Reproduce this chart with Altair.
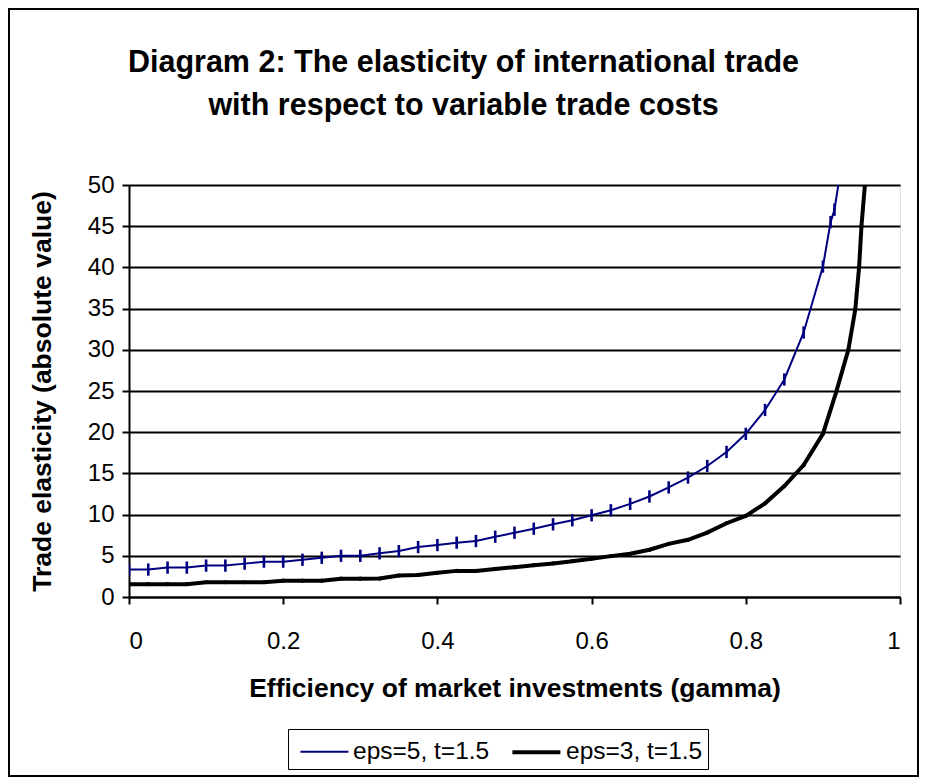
import altair as alt
import pandas as pd

BLUE_NAME = "eps=5, t=1.5"
BLACK_NAME = "eps=3, t=1.5"

gamma_blue = [0.0, 0.025, 0.05, 0.075, 0.1, 0.125, 0.15, 0.175, 0.2, 0.225,
              0.25, 0.275, 0.3, 0.325, 0.35, 0.375, 0.4, 0.425, 0.45, 0.475,
              0.5, 0.525, 0.55, 0.575, 0.6, 0.625, 0.65, 0.675, 0.7, 0.725,
              0.75, 0.775, 0.8, 0.825, 0.85, 0.875, 0.9, 0.91, 0.915, 0.925]
value_blue = [3.33, 3.33, 3.57, 3.57, 3.81, 3.81, 4.05, 4.29, 4.29, 4.52,
              4.76, 5.0, 5.0, 5.3, 5.57, 6.06, 6.3, 6.59, 6.79, 7.32,
              7.8, 8.29, 8.82, 9.31, 9.92, 10.53, 11.3, 12.2, 13.3, 14.5,
              15.9, 17.6, 19.8, 22.7, 26.4, 32.1, 40.1, 45.5, 47.0, 53.0]

gamma_black = [0.0, 0.025, 0.05, 0.075, 0.1, 0.125, 0.15, 0.175, 0.2, 0.225,
               0.25, 0.275, 0.3, 0.325, 0.35, 0.375, 0.4, 0.425, 0.45, 0.475,
               0.5, 0.525, 0.55, 0.575, 0.6, 0.625, 0.65, 0.675, 0.7, 0.725,
               0.75, 0.775, 0.8, 0.825, 0.85, 0.875, 0.9, 0.917, 0.933, 0.942,
               0.947, 0.95, 0.955]
value_black = [1.55, 1.55, 1.55, 1.55, 1.79, 1.79, 1.79, 1.79, 1.98, 1.98,
               1.98, 2.22, 2.22, 2.24, 2.6, 2.68, 2.93, 3.17, 3.17, 3.41,
               3.62, 3.86, 4.07, 4.35, 4.63, 4.96, 5.24, 5.73, 6.45, 6.94,
               7.82, 8.95, 9.84, 11.37, 13.47, 16.0, 19.8, 24.8, 30.0, 34.9,
               40.1, 45.0, 50.6]

x_ticks = [0, 0.2, 0.4, 0.6, 0.8, 1]
y_ticks = [0, 5, 10, 15, 20, 25, 30, 35, 40, 45, 50]

title_lines = ["Diagram 2: The elasticity of international trade",
               "with respect to variable trade costs"]
x_title = "Efficiency of market investments (gamma)"
y_title = "Trade elasticity (absolute value)"

FONT = "Liberation Sans"
NAVY = "#000080"
W, H = 771, 412

df_blue = pd.DataFrame({"gamma": gamma_blue, "value": value_blue, "series": BLUE_NAME})
df_black = pd.DataFrame({"gamma": gamma_black, "value": value_black, "series": BLACK_NAME})
df = pd.concat([df_blue, df_black], ignore_index=True)

x_enc = alt.X(
    "gamma:Q",
    scale=alt.Scale(domain=[0, 1], nice=False),
    axis=alt.Axis(
        values=x_ticks, format="~g", title=x_title, grid=False,
        labelFont=FONT, labelFontSize=24, labelColor="black", labelPadding=25,
        tickColor="black", tickSize=7, tickWidth=2,
        domainColor="black", domainWidth=2,
        titleFont=FONT, titleFontSize=26.5, titleFontWeight="bold", titleColor="black",
        titleX=W / 2, titleY=91, titleBaseline="middle",
    ),
)
y_enc = alt.Y(
    "value:Q",
    scale=alt.Scale(domain=[0, 50], nice=False),
    axis=alt.Axis(
        values=y_ticks, title=y_title, grid=True, gridColor="black", gridWidth=2,
        gridOpacity=1,
        labelFont=FONT, labelFontSize=24, labelColor="black", labelPadding=8,
        tickColor="black", tickSize=7, tickWidth=2,
        domainColor="black", domainWidth=2,
        titleFont=FONT, titleFontSize=26.5, titleFontWeight="bold", titleColor="black",
        titleX=-87, titleY=H / 2, titleAngle=270, titleBaseline="middle",
        titleAlign="center",
    ),
)

legend = alt.Legend(
    title=None, orient="none", legendX=159, legendY=544, direction="horizontal",
    strokeColor="black", fillColor="white", padding=5,
    labelFont=FONT, labelFontSize=24.5, labelColor="black", labelLimit=400,
    symbolSize=1024, symbolType="M-0.6,0L2.4,0", columnPadding=14, labelOffset=26,
)

color = alt.Color("series:N",
                  scale=alt.Scale(domain=[BLUE_NAME, BLACK_NAME], range=[NAVY, "black"]),
                  legend=legend)
swidth = alt.StrokeWidth("series:N",
                         scale=alt.Scale(domain=[BLUE_NAME, BLACK_NAME], range=[2, 4]),
                         legend=legend)

lines = alt.Chart(df).mark_line(clip=True).encode(
    x=x_enc, y=y_enc, color=color, strokeWidth=swidth,
    order="gamma:Q",
)

blue_marks = alt.Chart(df_blue).mark_point(
    shape="M0,-1L0,1", size=150, filled=False, stroke=NAVY, strokeWidth=2.6,
    opacity=1, clip=True,
).encode(x="gamma:Q", y="value:Q")

black_marks = alt.Chart(df_black).mark_circle(
    size=18, color="black", opacity=1, clip=True,
).encode(x="gamma:Q", y="value:Q")

frame = alt.Chart(alt.Data(values=[{"k": 1}])).mark_rect(
    fillOpacity=0, stroke="black", strokeWidth=2,
).encode(
    x=alt.value(-120), x2=alt.value(W + 18),
    y=alt.value(-176), y2=alt.value(H + 179),
)

chart = alt.layer(frame, lines, blue_marks, black_marks).properties(
    width=W, height=H,
    padding={"left": 0, "top": 0, "right": 0, "bottom": 0},
    title=alt.TitleParams(
        text=title_lines, font=FONT, fontSize=30.5, fontWeight="bold", color="black",
        anchor="middle", frame="bounds", offset=-113, lineHeight=43,
    ),
).configure_view(stroke="black", strokeWidth=2).configure(background="white")

chart.save("out.html", embed_options={"renderer": "svg", "actions": False})
